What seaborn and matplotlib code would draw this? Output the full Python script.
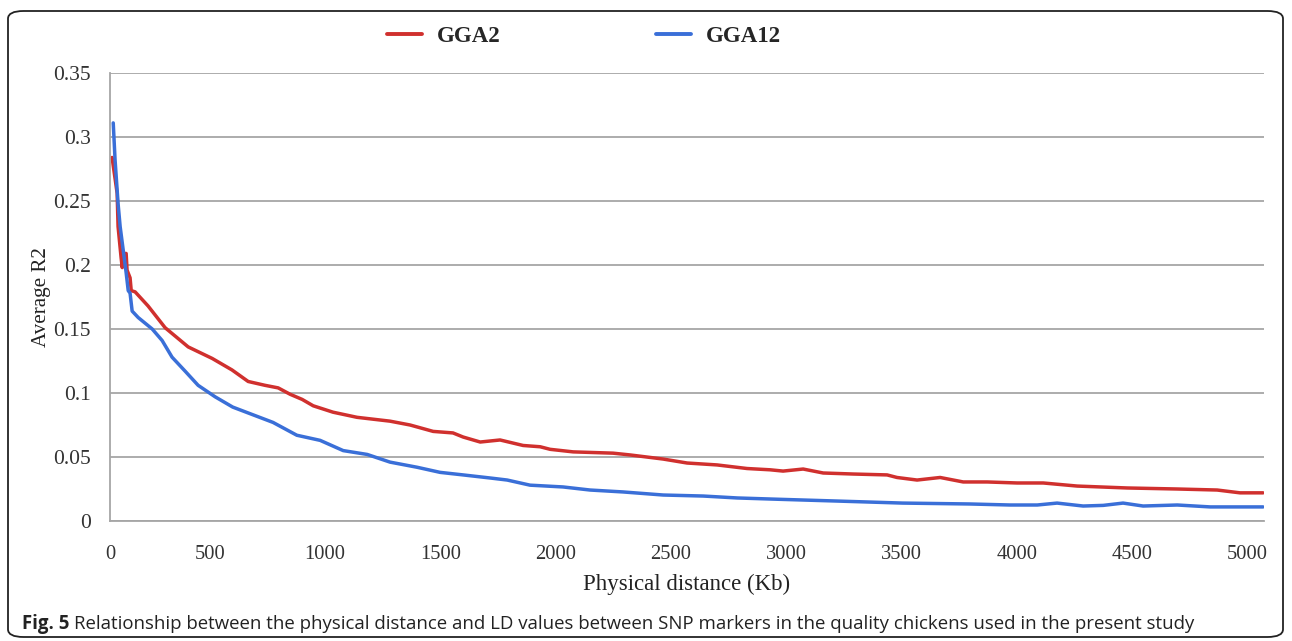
import matplotlib
matplotlib.use("Agg")
import matplotlib.pyplot as plt
from matplotlib.lines import Line2D
from matplotlib.patches import FancyBboxPatch
import seaborn as sns
import pandas as pd

# Average LD (r2) against physical distance for two chromosomes
gga2_kb = [77, 99, 103, 116, 121, 125, 138, 142, 155, 160, 177, 233, 307, 407, 511,
           597, 667, 740, 797, 849, 901, 949, 1035, 1139, 1282, 1369, 1469, 1555,
           1599, 1673, 1759, 1859, 1933, 1976, 2076, 2249, 2323, 2466, 2570, 2700,
           2830, 2930, 2986, 3073, 3160, 3290, 3437, 3480, 3567, 3667, 3767, 3871,
           4001, 4114, 4261, 4478, 4695, 4868, 4967, 5067]
gga2_r2 = [0.284, 0.256, 0.230, 0.206, 0.198, 0.209, 0.209, 0.196, 0.190, 0.180, 0.179,
           0.168, 0.151, 0.136, 0.127, 0.118, 0.109, 0.106, 0.104, 0.099, 0.095, 0.090,
           0.085, 0.081, 0.078, 0.075, 0.070, 0.0688, 0.0656, 0.0617, 0.0633, 0.059,
           0.058, 0.056, 0.054, 0.053, 0.0516, 0.0484, 0.0453, 0.0438, 0.041, 0.040,
           0.039, 0.0406, 0.0375, 0.0367, 0.036, 0.034, 0.032, 0.034, 0.0305, 0.0305,
           0.0297, 0.0297, 0.0273, 0.0258, 0.025, 0.0242, 0.022, 0.022]

gga12_kb = [82, 90, 103, 112, 125, 138, 147, 155, 164, 190, 251, 294, 337, 394, 450,
            524, 600, 775, 878, 979, 1079, 1183, 1282, 1399, 1499, 1599, 1716, 1790,
            1889, 2032, 2149, 2292, 2466, 2640, 2787, 2961, 3218, 3504, 3795, 3970,
            4088, 4174, 4287, 4374, 4460, 4547, 4695, 4838, 5067]
gga12_r2 = [0.311, 0.282, 0.248, 0.230, 0.212, 0.194, 0.180, 0.178, 0.164, 0.159, 0.150,
            0.141, 0.128, 0.117, 0.106, 0.097, 0.089, 0.077, 0.067, 0.063, 0.055, 0.052,
            0.046, 0.042, 0.038, 0.036, 0.0336, 0.032, 0.028, 0.0266, 0.0242, 0.0227,
            0.0203, 0.0195, 0.018, 0.017, 0.0156, 0.014, 0.0133, 0.0125, 0.0125, 0.014,
            0.0117, 0.0122, 0.014, 0.0117, 0.0125, 0.011, 0.011]

series_names = ["GGA2", "GGA12"]
series_colors = ["#d0302e", "#3a6fd8"]
x_ticks = [500, 1000, 1500, 2000, 2500, 3000, 3500, 4000, 4500, 5000]
y_ticks = [0, 0.05, 0.1, 0.15, 0.2, 0.25, 0.3, 0.35]
y_tick_labels = ["0", "0.05", "0.1", "0.15", "0.2", "0.25", "0.3", "0.35"]

df = pd.concat([
    pd.DataFrame({"kb": gga2_kb, "r2": gga2_r2, "chrom": series_names[0]}),
    pd.DataFrame({"kb": gga12_kb, "r2": gga12_r2, "chrom": series_names[1]}),
])

sns.set_theme(style="white")
serif = ["Liberation Serif", "DejaVu Serif"]

fig = plt.figure(figsize=(12.92, 6.41), dpi=100)
ax = fig.add_axes([110 / 1292, 1 - 521 / 641, (1264 - 110) / 1292, (521 - 73) / 641])

sns.lineplot(data=df, x="kb", y="r2", hue="chrom", palette=series_colors,
             hue_order=series_names, linewidth=2.5, legend=False, ax=ax,
             estimator=None, sort=False)

x_left, x_right = 68, 5071
ax.set_xlim(x_left, x_right)
ax.set_ylim(0, 0.35)
ax.set_xticks([x_left] + x_ticks)
ax.set_xticklabels(["0"] + [str(t) for t in x_ticks], family=serif, fontsize=14.8,
                   color="#333333")
ax.set_yticks(y_ticks)
ax.set_yticklabels(y_tick_labels, family=serif, fontsize=15.5, color="#333333")
ax.tick_params(axis="y", length=0, pad=14)
ax.tick_params(axis="x", length=0, pad=17)

ax.grid(axis="y", color="#a6a6a6", linewidth=1.3)
ax.set_axisbelow(True)
for side in ["top", "right"]:
    ax.spines[side].set_visible(False)
for side in ["left", "bottom"]:
    ax.spines[side].set_color("#a6a6a6")
    ax.spines[side].set_linewidth(1.3)

ax.set_xlabel("Physical distance (Kb)", family=serif, fontsize=16.5, color="#222222",
              labelpad=7)
ax.set_ylabel("Average R2", family=serif, fontsize=15.2, color="#222222", labelpad=1)

handles = [Line2D([0], [0], color=c, linewidth=2.8) for c in series_colors]
leg = fig.legend(handles, series_names, loc="center", bbox_to_anchor=(584 / 1292, 1 - 36 / 641),
                 ncol=2, frameon=False, handlelength=1.5, handletextpad=0.65,
                 columnspacing=6.8, prop={"family": serif, "weight": "bold", "size": 16.5})

# Caption below the chart
cap_y = 1 - 624 / 641
t1 = fig.text(22 / 1292, cap_y, "Fig. 5", family="Open Sans", fontweight="bold",
              fontsize=13.4, color="#222222", va="center", ha="left")
fig.canvas.draw()
bb = t1.get_window_extent()
fig.text((bb.x1 + 5) / 1292, cap_y,
         "Relationship between the physical distance and LD values between SNP markers "
         "in the quality chickens used in the present study",
         family="Open Sans", fontsize=13.4, color="#222222", va="center", ha="left")

# Rounded outer frame
frame = FancyBboxPatch((8 / 1292, 4 / 641), (1283 - 8) / 1292, (630 - 4) / 641,
                       boxstyle="round,pad=0,rounding_size=0.012",
                       transform=fig.transFigure, fill=False, edgecolor="#222222",
                       linewidth=1.3)
fig.patches.append(frame)

fig.savefig("out.png", dpi=100)
